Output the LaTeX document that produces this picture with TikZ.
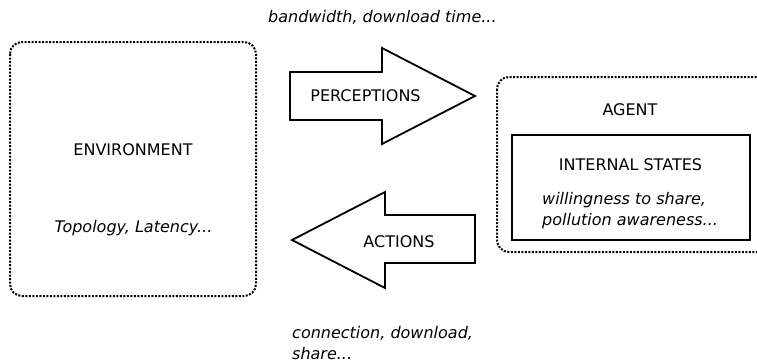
\documentclass[tikz,border=0pt]{standalone}
\usepackage{fontspec}
\setmainfont{DejaVu Sans}
\begin{document}
\begin{tikzpicture}[x=1pt,y=-1pt,
  txt/.style={inner sep=0pt,font=\fontsize{16}{21}\selectfont},
  itxt/.style={txt,font=\fontsize{16}{21}\selectfont\itshape},
  dotbox/.style={draw,line width=2pt,dash pattern=on 2pt off 1.5pt,rounded corners=12pt},
  bigarrow/.style={draw,line width=1.8pt,line join=miter,fill=white}]
\useasboundingbox (0,0) rectangle (757,362);
% environment
\draw[dotbox] (10,42) rectangle (256,296);
\node[txt,anchor=base] (env) at (133,155) {ENVIRONMENT};
\node[itxt,anchor=base] (envsub) at (133.5,232) {Topology, Latency...};
% agent
\draw[dotbox] (497,77) rectangle (772,252);
\node[txt,anchor=base] (agent) at (630,115) {AGENT};
\draw[line width=2pt] (512,135) rectangle (750,240);
\node[txt,anchor=base] (internal) at (630.5,170) {INTERNAL STATES};
\node[itxt,anchor=base west] (will) at (542,204) {willingness to share,};
\node[itxt,anchor=base west] (poll) at (542,225) {pollution awareness...};
% perceptions arrow
\draw[bigarrow] (290,72) -- (382,72) -- (382,48) -- (475,96) -- (382,144) -- (382,120) -- (290,120) -- cycle;
\node[txt,anchor=base] (perc) at (365.5,101) {PERCEPTIONS};
\node[itxt,anchor=base west] (band) at (268,22) {bandwidth, download time...};
% actions arrow
\draw[bigarrow] (475,215) -- (385,215) -- (385,192) -- (292,240) -- (385,288) -- (385,263) -- (475,263) -- cycle;
\node[txt,anchor=base] (act) at (399,247) {ACTIONS};
\node[itxt,anchor=base west] (conn) at (292,338) {connection, download,};
\node[itxt,anchor=base west] (share) at (292,359) {share...};
\end{tikzpicture}
\end{document}
